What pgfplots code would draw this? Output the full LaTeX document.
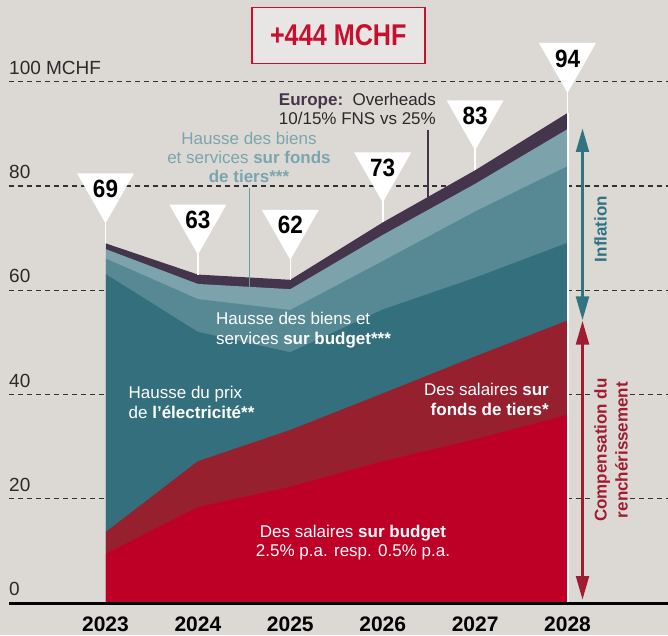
\documentclass[border=0pt]{standalone}
\usepackage{fontspec}
\setmainfont{Liberation Sans}
\newfontfamily\condfont[FakeStretch=0.9]{Liberation Sans}
\newfontfamily\titlefont[FakeStretch=0.84]{Liberation Sans}
\usepackage{pgfplots}
\pgfplotsset{compat=1.18}
\usetikzlibrary{arrows.meta}

\definecolor{cbg}{HTML}{DCD9D5}
\definecolor{cbox}{HTML}{E8E6E4}
\definecolor{ctitle}{HTML}{C8102E}
\definecolor{cred}{HTML}{BE0027}
\definecolor{cdred}{HTML}{97202F}
\definecolor{cdteal}{HTML}{336F7C}
\definecolor{cmteal}{HTML}{568993}
\definecolor{clteal}{HTML}{7CA3AB}
\definecolor{cpurple}{HTML}{45354C}
\definecolor{clabel}{HTML}{7BA5AE}
\definecolor{cptr}{HTML}{6A9AA5}
\definecolor{cinfl}{HTML}{2F7480}
\definecolor{ccomp}{HTML}{A01C30}
\definecolor{cgrid}{HTML}{333333}
\definecolor{ctext}{HTML}{2A2A2A}

\pgfdeclareplotmark{flag}{%
  \pgfsetcolor{white}%
  \pgfsetlinewidth{1.6pt}%
  \pgfpathmoveto{\pgfpoint{0pt}{0pt}}%
  \pgfpathlineto{\pgfpoint{0pt}{21pt}}%
  \pgfusepath{stroke}%
  \pgfpathmoveto{\pgfpoint{0pt}{20pt}}%
  \pgfpathlineto{\pgfpoint{-28.5pt}{70pt}}%
  \pgfpathlineto{\pgfpoint{28.5pt}{70pt}}%
  \pgfpathclose
  \pgfusepath{fill}%
}

\begin{document}
\begin{tikzpicture}
\fill[cbg] (0,0) rectangle (668pt,635pt);
\begin{scope}[x=1pt,y=-1pt,yshift=635pt]
  \foreach \v in {20,40,60,80,100}
    \draw[cgrid, line width=1.1pt, dash pattern=on 5pt off 4pt] (9,{603-5.213*\v}) -- (668,{603-5.213*\v});
\end{scope}

\begin{axis}[at={(0pt,0pt)}, anchor=south west, scale only axis,
  width=668pt, height=635pt,
  xmin=2021.8582, xmax=2029.0877, ymin=-6.139, ymax=115.673,
  hide axis, clip=false]
% cumulative layers, painted from the top layer down
\addplot[fill=cpurple, draw=none] coordinates {(2023,69) (2024,63) (2025,62) (2026,73) (2027,83) (2028,94)} \closedcycle;
\addplot[fill=clteal, draw=none] coordinates {(2023,67.9) (2024,61.2) (2025,60.2) (2026,70.6) (2027,80.4) (2028,90.9)} \closedcycle;
\addplot[fill=cmteal, draw=none] coordinates {(2023,66.1) (2024,58.3) (2025,56.2) (2026,65.6) (2027,75.1) (2028,83.8)} \closedcycle;
\addplot[fill=cdteal, draw=none] coordinates {(2023,63.1) (2024,52.0) (2025,48.1) (2026,56.3) (2027,62.4) (2028,69.1)} \closedcycle;
\addplot[fill=cdred, draw=none] coordinates {(2023,13.6) (2024,27.2) (2025,33.2) (2026,40.2) (2027,47.3) (2028,54.2)} \closedcycle;
\addplot[fill=cred, draw=none] coordinates {(2023,9.4) (2024,18.4) (2025,22.3) (2026,27.2) (2027,31.4) (2028,36.1)} \closedcycle;
\draw[white, line width=2pt] (axis cs:2028,0) -- (axis cs:2028,94);
\draw[white, opacity=0.5, line width=1.2pt] (axis cs:2023,0) -- (axis cs:2023,69);
\addplot[only marks, mark=flag, nodes near coords, point meta=explicit symbolic,
  every node near coord/.append style={anchor=center, yshift=54.5pt, text=black,
    font=\condfont\bfseries\fontsize{25}{25}\selectfont}]
  coordinates {(2023,69)[69] (2024,63)[63] (2025,62)[62] (2026,73)[73] (2027,83)[83] (2028,94)[94]};
\end{axis}

\begin{scope}[x=1pt,y=-1pt,yshift=635pt]
  % baseline
  \draw[black, line width=2.5pt] (9,603.5) -- (668,603.5);
  % pointer lines
  \draw[cptr, line width=1.8pt] (249.5,188) -- (249.5,287);
  \draw[cpurple, line width=2pt] (427.7,130) -- (427.7,197);
  % y labels
  \foreach \v/\t in {0/0,20/20,40/40,60/60,80/80,100/100 MCHF}
    \node[anchor=west, inner sep=0pt, text=ctext, font=\fontsize{19}{19}\selectfont] at (9,{603-5.213*\v-14}) {\t};
  % year labels
  \foreach \k/\yr in {0/2023,1/2024,2/2025,3/2026,4/2027,5/2028}
    \node[inner sep=0pt, text=black, font=\bfseries\fontsize{21}{21}\selectfont] at ({105.5+92.4*\k},624.5) {\yr};
  % title
  \node[draw=ctitle, line width=1.5pt, fill=cbox, minimum width=173pt, minimum height=56pt, text=ctitle, inner sep=0pt]
    at (338.3,35.3) {\titlefont\bfseries\fontsize{30}{30}\selectfont +444 MCHF};
  % area labels
  \node[anchor=west, align=left, text=white, inner sep=0pt, font=\fontsize{17}{20}\selectfont]
    at (216,330.5) {Hausse des biens et\\services \textbf{sur budget***}};
  \node[anchor=west, align=left, text=white, inner sep=0pt, font=\fontsize{17}{20}\selectfont]
    at (128.5,402) {Hausse du prix\\de \textbf{l’électricité**}};
  \node[anchor=east, align=right, text=white, inner sep=0pt, font=\fontsize{17}{20}\selectfont]
    at (549,399.5) {Des salaires \textbf{sur}\\\textbf{fonds de tiers*}};
  \node[align=center, text=white, inner sep=0pt, font=\fontsize{17}{19}\selectfont]
    at (353,543) {Des salaires \textbf{sur budget}\\2.5\% p.a. resp. 0.5\% p.a.};
  \node[align=center, text=clabel, inner sep=0pt, font=\fontsize{17}{19.2}\selectfont]
    at (249,157.5) {Hausse des biens\\et services \textbf{sur fonds}\\\textbf{de tiers***}};
  \node[anchor=east, align=right, text=ctext, inner sep=0pt, font=\fontsize{17}{19.5}\selectfont]
    at (436,109) {\textcolor{cpurple}{\textbf{Europe:}}\ \ Overheads\\10/15\% FNS vs 25\%};
  % right arrows
  \draw[cinfl, line width=3.5pt, {Triangle[width=12.5pt,length=24pt]}-{Triangle[width=12.5pt,length=24pt]}]
    (582.5,128) -- (582.5,320.5);
  \draw[ccomp, line width=3.5pt, {Triangle[width=12.5pt,length=24pt]}-{Triangle[width=12.5pt,length=24pt]}]
    (582.5,320.5) -- (582.5,600);
  \node[rotate=90, text=cinfl, inner sep=0pt, font=\bfseries\fontsize{17}{20}\selectfont] at (600.5,229) {Inflation};
  \node[rotate=90, align=center, text=ccomp, fill=cbg, inner sep=1pt, font=\bfseries\fontsize{17}{21}\selectfont]
    at (611,450) {Compensation du\\renchérissement};
\end{scope}
\pgfresetboundingbox
\path (0,0) rectangle (668pt,635pt);
\end{tikzpicture}
\end{document}
